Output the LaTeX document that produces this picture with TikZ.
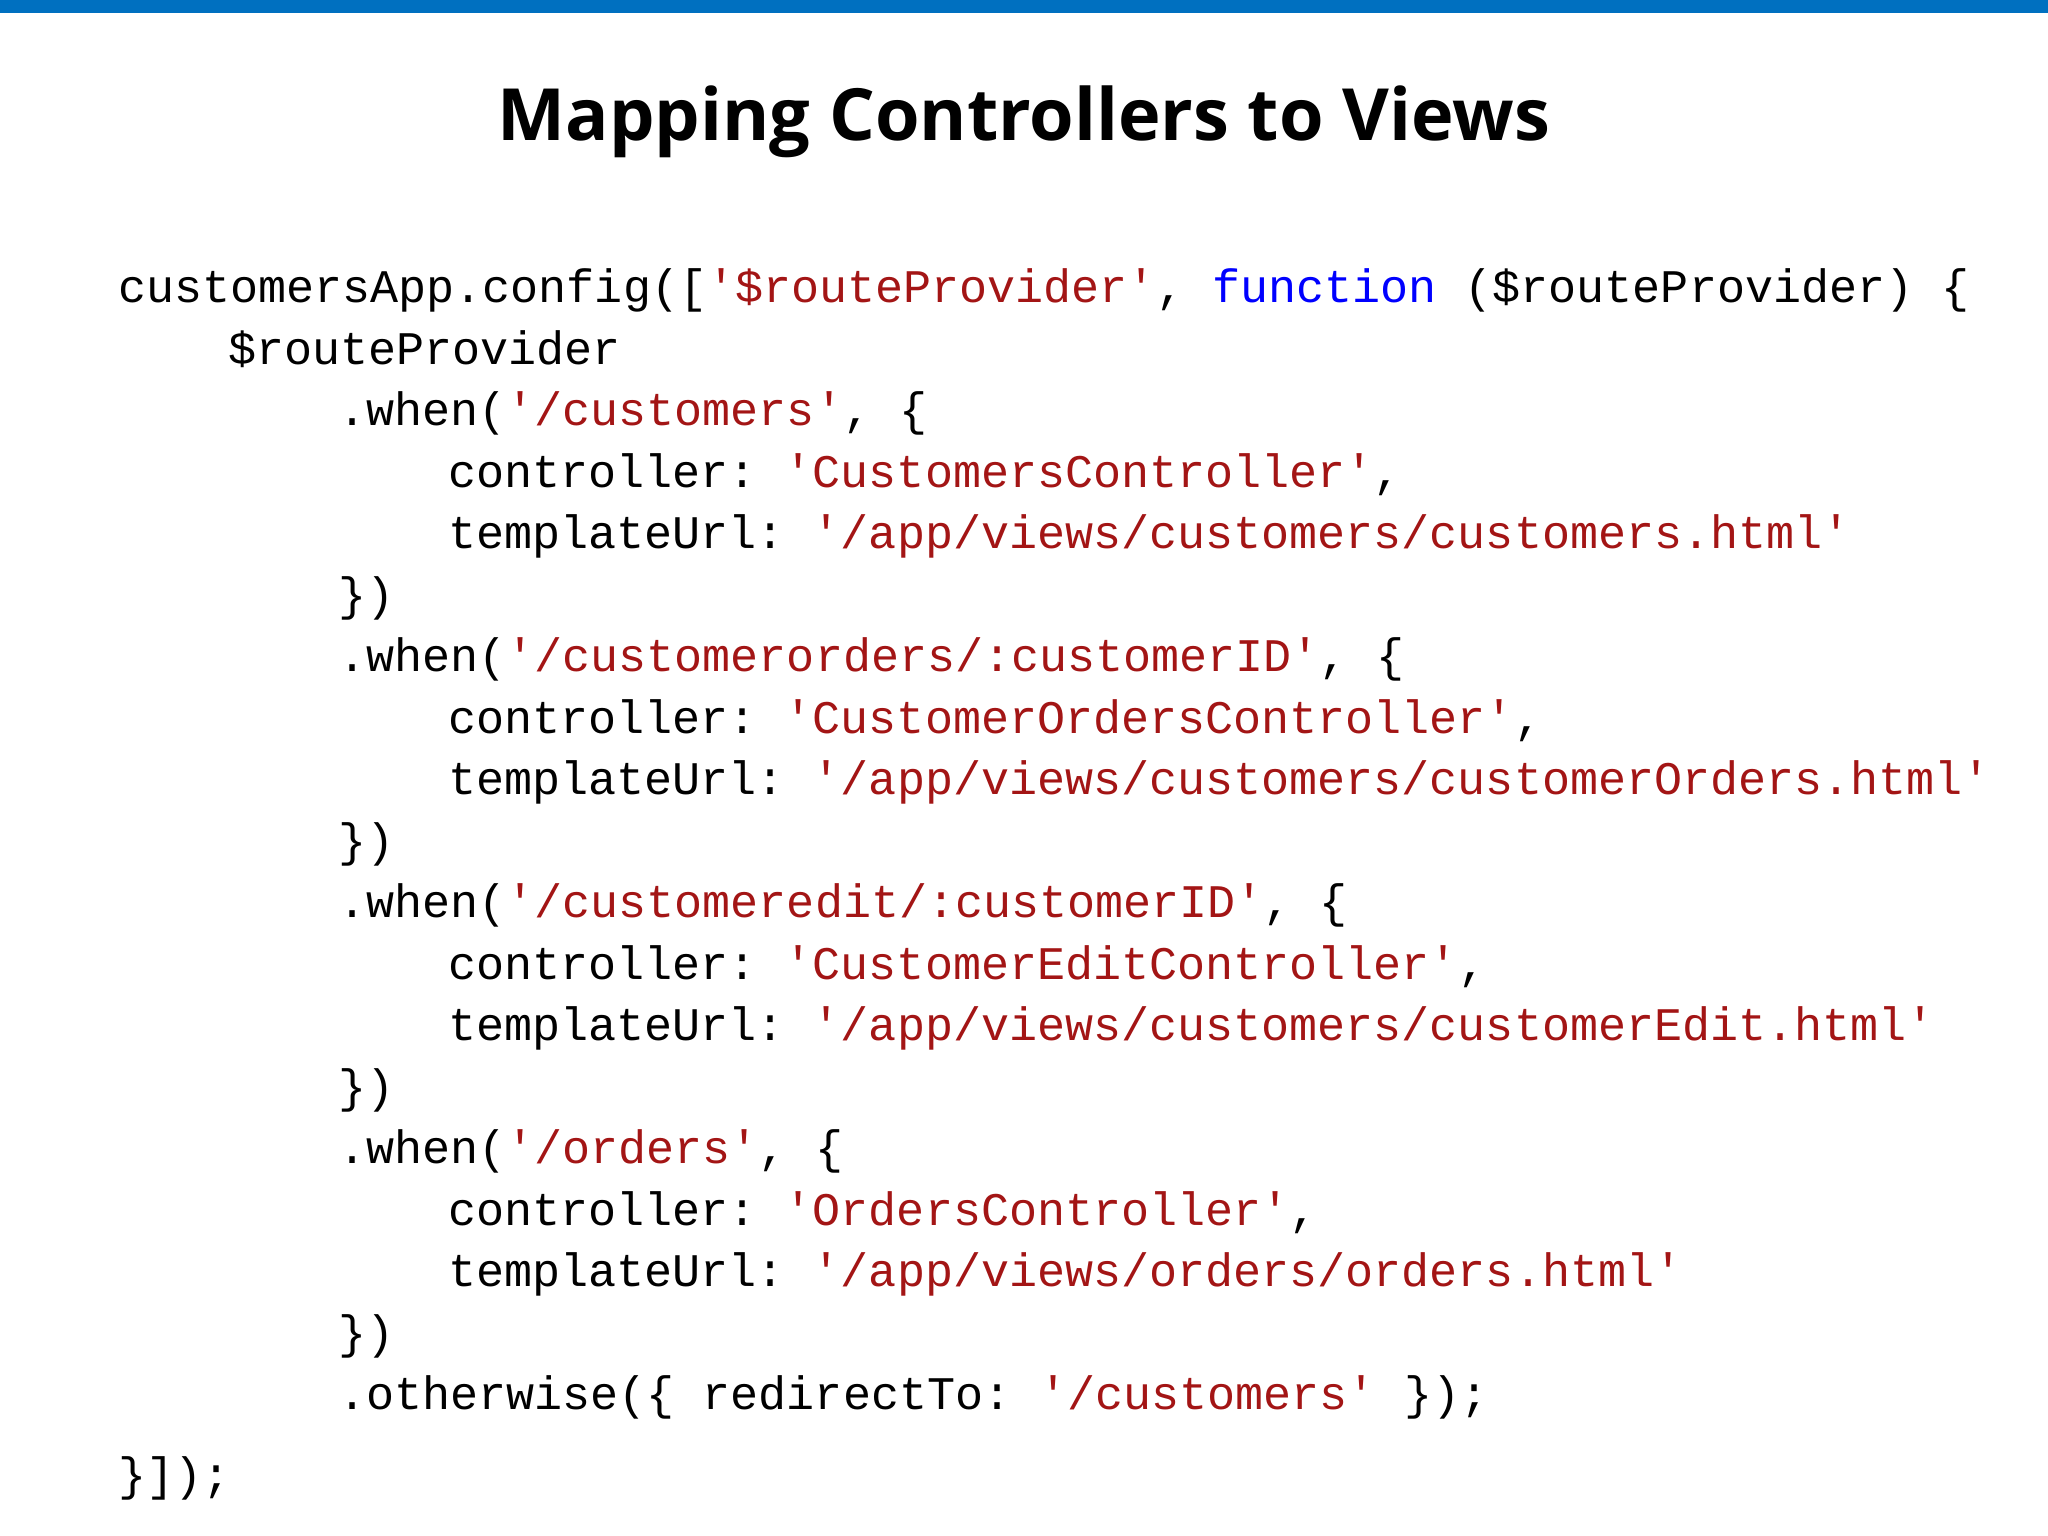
\documentclass[tikz,border=0pt]{standalone}
\usepackage{fontspec}
\setmainfont{Open Sans}
\setmonofont{Liberation Mono}
\definecolor{barblue}{RGB}{0,112,192}
\definecolor{strred}{RGB}{163,21,21}
\definecolor{kwblue}{RGB}{0,0,255}
\newcommand{\str}[1]{\textcolor{strred}{#1}}
\tikzset{
  codeline/.style={anchor=base west, inner sep=0pt, font=\ttfamily\fontsize{13.3pt}{15pt}\selectfont},
  heading/.style={inner sep=0pt, font=\bfseries\fontsize{20.5pt}{25pt}\selectfont}
}
\begin{document}
\begin{tikzpicture}
\useasboundingbox (0,0) rectangle (20.48,15.36);
\fill[barblue] (0,15.23) rectangle (20.48,15.36);
\node[heading] (title) at (10.24,14.14) {Mapping Controllers to Views};
% code lines, baseline step 0.615
\def\lx{1.175}
\def\ind{1.10}
\def\st{-0.615cm}
\node[codeline] (l0) at (\lx,12.33) {customersApp.config([\str{'\$routeProvider'}, \textcolor{kwblue}{function} (\$routeProvider) \{};
\node[codeline] (l1) at ([yshift=\st]l0.base west) {\hspace{\ind cm}\$routeProvider};
\node[codeline] (l2) at ([yshift=\st]l1.base west) {\hspace{2.2cm}.when(\str{'/customers'}, \{};
\node[codeline] (l3) at ([yshift=\st]l2.base west) {\hspace{3.3cm}controller: \str{'CustomersController'},};
\node[codeline] (l4) at ([yshift=\st]l3.base west) {\hspace{3.3cm}templateUrl: \str{'/app/views/customers/customers.html'}};
\node[codeline] (l5) at ([yshift=\st]l4.base west) {\hspace{2.2cm}\})};
\node[codeline] (l6) at ([yshift=\st]l5.base west) {\hspace{2.2cm}.when(\str{'/customerorders/:customerID'}, \{};
\node[codeline] (l7) at ([yshift=\st]l6.base west) {\hspace{3.3cm}controller: \str{'CustomerOrdersController'},};
\node[codeline] (l8) at ([yshift=\st]l7.base west) {\hspace{3.3cm}templateUrl: \str{'/app/views/customers/customerOrders.html'}};
\node[codeline] (l9) at ([yshift=\st]l8.base west) {\hspace{2.2cm}\})};
\node[codeline] (l10) at ([yshift=\st]l9.base west) {\hspace{2.2cm}.when(\str{'/customeredit/:customerID'}, \{};
\node[codeline] (l11) at ([yshift=\st]l10.base west) {\hspace{3.3cm}controller: \str{'CustomerEditController'},};
\node[codeline] (l12) at ([yshift=\st]l11.base west) {\hspace{3.3cm}templateUrl: \str{'/app/views/customers/customerEdit.html'}};
\node[codeline] (l13) at ([yshift=\st]l12.base west) {\hspace{2.2cm}\})};
\node[codeline] (l14) at ([yshift=\st]l13.base west) {\hspace{2.2cm}.when(\str{'/orders'}, \{};
\node[codeline] (l15) at ([yshift=\st]l14.base west) {\hspace{3.3cm}controller: \str{'OrdersController'},};
\node[codeline] (l16) at ([yshift=\st]l15.base west) {\hspace{3.3cm}templateUrl: \str{'/app/views/orders/orders.html'}};
\node[codeline] (l17) at ([yshift=\st]l16.base west) {\hspace{2.2cm}\})};
\node[codeline] (l18) at ([yshift=\st]l17.base west) {\hspace{2.2cm}.otherwise(\{ redirectTo: \str{'/customers'} \});};
\node[codeline] (l19) at ([yshift=-0.81cm]l18.base west) {\}]);};
\end{tikzpicture}
\end{document}
